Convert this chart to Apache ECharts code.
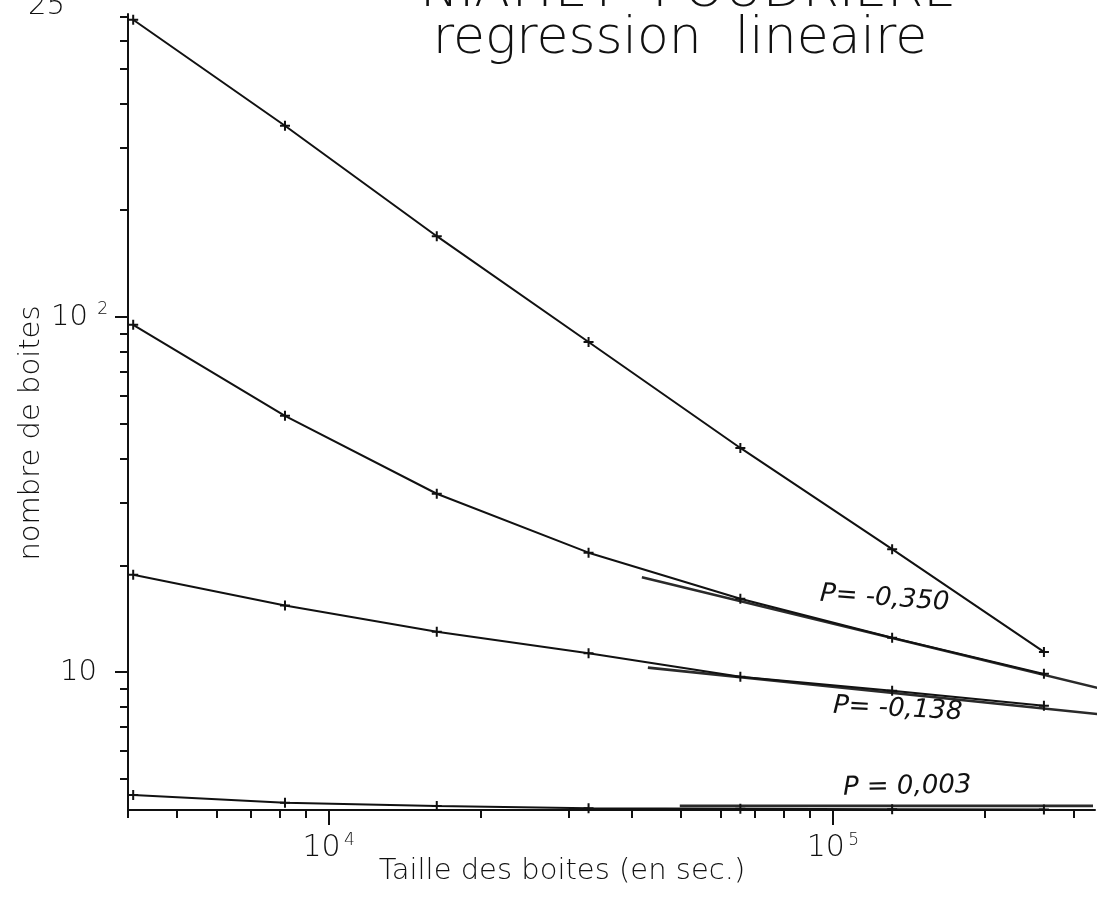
<!DOCTYPE html>
<html>
<head>
<meta charset="utf-8">
<script src="https://cdn.jsdelivr.net/npm/echarts@6/dist/echarts.min.js"></script>
<style>
  html, body { margin: 0; padding: 0; background: #fff; }
  #chart { width: 1114px; height: 912px; }
</style>
</head>
<body>
<div id="chart"></div>
<script>
// Box sizes in seconds (4096 · 2^k)
const boxSizes = [4096, 8192, 16384, 32768, 65536, 131072, 262144];

// Number of boxes for each of the four curves
const countsA = [688, 346, 169, 85.1, 42.8, 22.2, 11.4];
const countsB = [95.1, 52.7, 31.8, 21.7, 16.1, 12.5, 9.89];
const countsC = [18.8, 15.4, 13.0, 11.3, 9.70, 8.86, 8.04];
const countsD = [4.51, 4.29, 4.20, 4.14, 4.12, 4.11, 4.10];

// Hand-drawn regression segments: [box size, number of boxes]
const fitB = [[41800, 18.5], [347000, 8.92]];
const fitC = [[42960, 10.3], [347000, 7.58]];
const fitD = [[49700, 4.20], [328000, 4.20]];
const fitLabels = ['P= -0,350', 'P= -0,138', 'P = 0,003'];

// Axis ticks
const xMajorTicks = [1e4, 1e5];
const xMinorTicks = [4000, 5000, 6000, 7000, 8000, 9000,
  20000, 30000, 40000, 50000, 60000, 70000, 80000, 90000, 200000, 300000];
const yMajorTicks = [10, 100];
const yMinorTicks = [5, 6, 7, 8, 9, 20, 30, 40, 50, 60, 70, 80, 90,
  200, 300, 400, 500, 600, 700];
const xTickExponent = { 10000: '4', 100000: '5' };
const yTickExponent = { 10: '', 100: '2' };

const FONT = 'DejaVu Sans';
const INK = '#111';

const pairs = vals => boxSizes.map((s, i) => [s, vals[i]]);

const plus = 'path://M3.2,0h1.6v3.2h3.2v1.6h-3.2v3.2h-1.6v-3.2h-3.2v-1.6h3.2z';

function curve(vals) {
  return {
    type: 'line',
    data: pairs(vals),
    symbol: plus,
    symbolSize: 10,
    showSymbol: true,
    itemStyle: { color: INK },
    lineStyle: { color: INK, width: 2 },
    clip: false,
    silent: true,
    z: 3
  };
}
function fit(seg) {
  return {
    type: 'line',
    data: seg,
    symbol: 'none',
    lineStyle: { color: '#2a2a2a', width: 2.6 },
    clip: false,
    silent: true,
    z: 2
  };
}

const xBase = {
  type: 'log', logBase: 10, min: 4000, max: 331000,
  splitLine: { show: false }, minorTick: { show: false }
};
const yBase = {
  type: 'log', logBase: 10, min: 4.09, max: 714,
  splitLine: { show: false }, minorTick: { show: false }
};

const chart = echarts.init(document.getElementById('chart'), null, { renderer: 'canvas' });
chart.setOption({
  animation: false,
  backgroundColor: '#fff',
  grid: { left: 128, right: 19, top: 14, bottom: 102, containLabel: false },
  xAxis: [
    Object.assign({}, xBase, {
      position: 'bottom',
      axisLine: { show: true, lineStyle: { color: INK, width: 2 } },
      axisTick: { show: true, customValues: xMajorTicks, length: 15, lineStyle: { color: INK, width: 2 } },
      axisLabel: {
        show: true, customValues: xMajorTicks, margin: 22,
        formatter: v => '{n|10} {s|' + xTickExponent[Math.round(v)] + '}',
        rich: {
          n: { fontFamily: FONT, fontSize: 30, fontWeight: 200, color: INK, lineHeight: 32 },
          s: { fontFamily: FONT, fontSize: 17, fontWeight: 200, color: INK, verticalAlign: 'top', lineHeight: 16 }
        }
      }
    }),
    Object.assign({}, xBase, {
      position: 'bottom',
      axisLine: { show: false },
      axisTick: { show: true, customValues: xMinorTicks, length: 8, lineStyle: { color: INK, width: 2 } },
      axisLabel: { show: false }
    })
  ],
  yAxis: [
    Object.assign({}, yBase, {
      position: 'left',
      axisLine: { show: true, lineStyle: { color: INK, width: 2 } },
      axisTick: { show: true, customValues: yMajorTicks, length: 13, lineStyle: { color: INK, width: 2 } },
      axisLabel: {
        show: true, customValues: yMajorTicks, margin: 20,
        formatter: v => {
          const e = yTickExponent[Math.round(v)];
          return e ? '{n|10} {s|' + e + '}' : '{n|10}{p|}';
        },
        rich: {
          n: { fontFamily: FONT, fontSize: 29, fontWeight: 200, color: INK, lineHeight: 32 },
          s: { fontFamily: FONT, fontSize: 17, fontWeight: 200, color: INK, verticalAlign: 'top',
               lineHeight: 16, padding: [0, 0, 0, 6] },
          p: { width: 11 }
        }
      }
    }),
    Object.assign({}, yBase, {
      position: 'left',
      axisLine: { show: false },
      axisTick: { show: true, customValues: yMinorTicks, length: 8, lineStyle: { color: INK, width: 2 } },
      axisLabel: { show: false }
    })
  ],
  series: [
    curve(countsA), curve(countsB), curve(countsC), curve(countsD),
    fit(fitB), fit(fitC), fit(fitD)
  ],
  graphic: [
    { type: 'text', left: 28, top: -8, silent: true,
      style: { text: '25', font: '200 29px "DejaVu Sans"', fill: INK } },
    { type: 'text', x: 688, y: -8, silent: true,
      style: { text: 'NIAMEY  POUDRIERE', font: '200 52px "DejaVu Sans"', fill: INK,
               align: 'center', verticalAlign: 'middle' } },
    { type: 'text', x: 680, y: 39, silent: true,
      style: { text: 'regression  lineaire', font: '200 52px "DejaVu Sans"', fill: INK,
               align: 'center', verticalAlign: 'middle' } },
    { type: 'text', x: 562, y: 871, silent: true,
      style: { text: 'Taille des boites (en sec.)', font: '200 29px "DejaVu Sans"', fill: INK,
               align: 'center', verticalAlign: 'middle' } },
    { type: 'text', x: 31, y: 433, rotation: Math.PI / 2, silent: true,
      style: { text: 'nombre de boites', font: '200 29px "DejaVu Sans"', fill: INK,
               align: 'center', verticalAlign: 'middle' } },
    { type: 'text', x: 820, y: 594, rotation: -0.07, silent: true,
      style: { text: fitLabels[0], font: 'italic 26px "DejaVu Sans"', fill: INK,
               align: 'left', verticalAlign: 'middle' } },
    { type: 'text', x: 833, y: 706, rotation: -0.05, silent: true,
      style: { text: fitLabels[1], font: 'italic 26px "DejaVu Sans"', fill: INK,
               align: 'left', verticalAlign: 'middle' } },
    { type: 'text', x: 843, y: 788, rotation: 0.02, silent: true,
      style: { text: fitLabels[2], font: 'italic 26px "DejaVu Sans"', fill: INK,
               align: 'left', verticalAlign: 'middle' } }
  ]
});
</script>
</body>
</html>
